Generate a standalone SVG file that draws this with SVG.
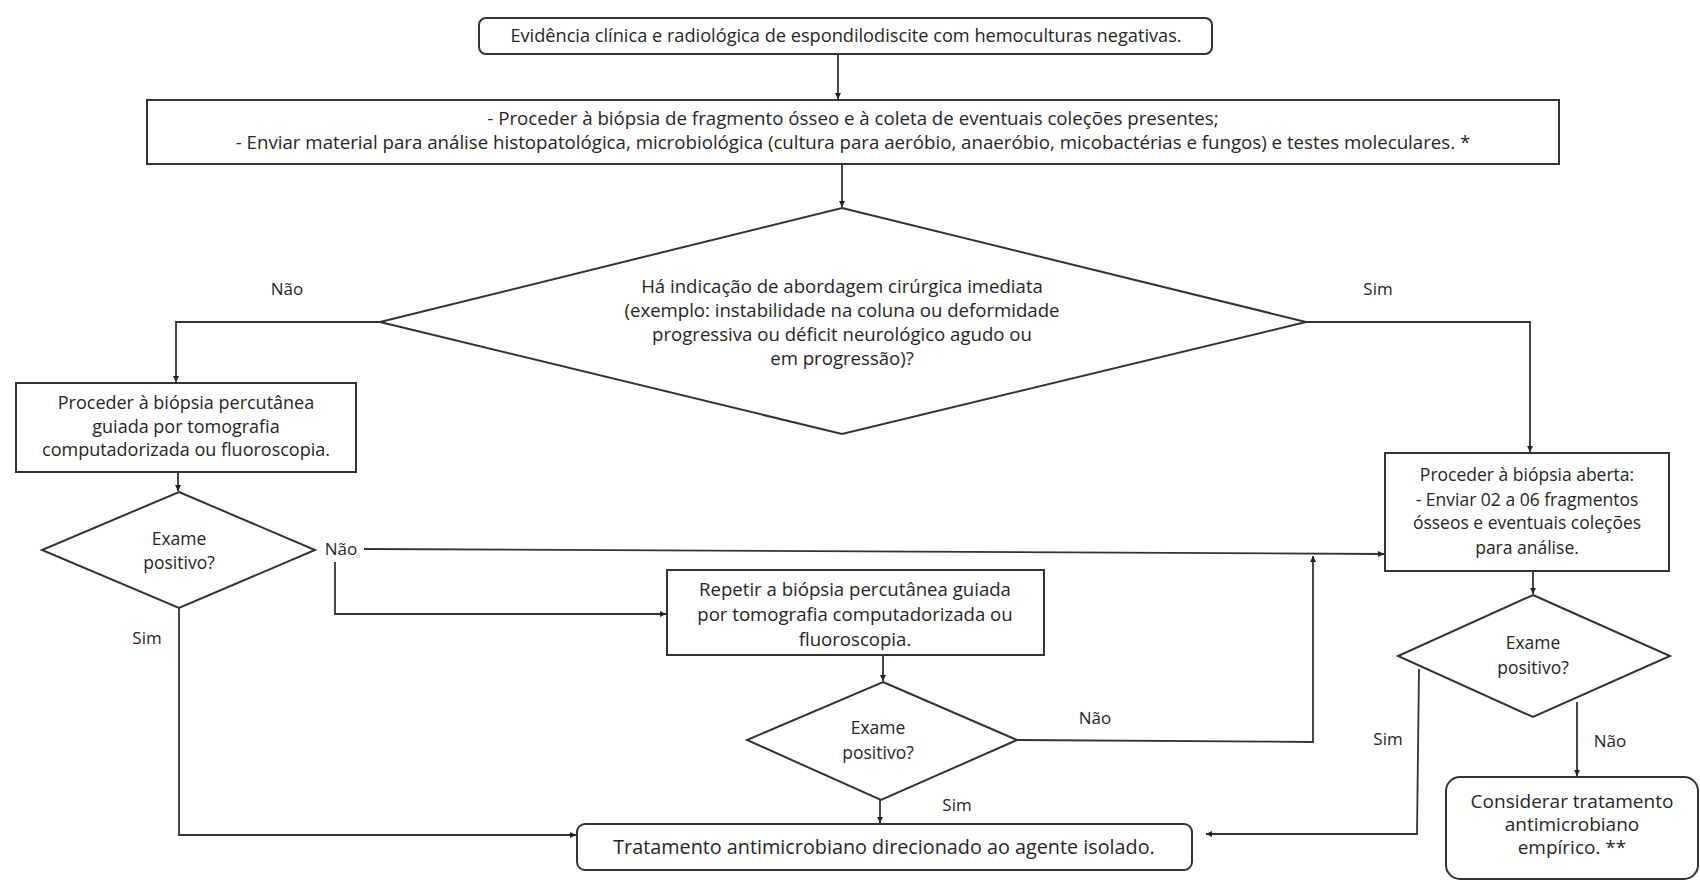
<svg xmlns="http://www.w3.org/2000/svg" width="1700" height="881" viewBox="0 0 1700 881">
<style>
  svg { font-size: 17px; }
  .box { fill: #fff; stroke: #333; stroke-width: 2; }
  .dia { fill: #fff; stroke: #333; stroke-width: 2; }
  .arr { fill: none; stroke: #333; stroke-width: 1.8; marker-end: url(#ah); }
  text { font-family: "Open Sans", "Noto Sans", sans-serif; fill: #262626; text-anchor: middle; }
  .q { font-size: 17.5px; }
</style>
<defs>
  <marker id="ah" viewBox="0 0 10 10" refX="10" refY="5" markerWidth="6" markerHeight="6" orient="auto" markerUnits="userSpaceOnUse">
    <path d="M0,0 L10,5 L0,10 z" fill="#222"/>
  </marker>
</defs>
<rect width="1700" height="881" fill="#fff"/>

<g id="connectors">
  <path class="arr" d="M838,54 V99"/>
  <path class="arr" d="M842,164 V207"/>
  <path class="arr" d="M380,322 H176 V382"/>
  <path class="arr" d="M1306,322 H1530 V452"/>
  <path class="arr" d="M178,472 V491"/>
  <path class="arr" d="M364,549 L1384,554"/>
  <path class="arr" d="M335,562 V614 H666"/>
  <path class="arr" d="M179,608 V835 H576"/>
  <path class="arr" d="M883,655 V681"/>
  <path class="arr" d="M880,800 V823"/>
  <path class="arr" d="M1017,740 L1313,742 V556"/>
  <path class="arr" d="M1533,571 V594"/>
  <path class="arr" d="M1419,669 L1417,834 H1206"/>
  <path class="arr" d="M1577,702 V776"/>
</g>

<g id="labels">
  <text x="287" y="295">Não</text>
  <text x="1378" y="295">Sim</text>
  <text x="341" y="555">Não</text>
  <text x="147" y="644">Sim</text>
  <text x="1095" y="724">Não</text>
  <text x="957" y="811">Sim</text>
  <text x="1388" y="745">Sim</text>
  <text x="1610" y="747">Não</text>
</g>

<g id="n1">
  <rect class="box" x="479" y="18" width="733" height="36" rx="7"/>
  <text x="846" y="42" font-size="18.2">Evidência clínica e radiológica de espondilodiscite com hemoculturas negativas.</text>
</g>

<g id="n2">
  <rect class="box" x="147" y="100" width="1412" height="64"/>
  <text x="853" y="125" font-size="18.7">- Proceder à biópsia de fragmento ósseo e à coleta de eventuais coleções presentes;</text>
  <text x="853" y="149" font-size="18.7">- Enviar material para análise histopatológica, microbiológica (cultura para aeróbio, anaeróbio, micobactérias e fungos) e testes moleculares. *</text>
</g>

<g id="n3">
  <polygon class="dia" points="842,208 1306,322 842,434 380,322"/>
  <text x="842" y="293" font-size="18.6">Há indicação de abordagem cirúrgica imediata</text>
  <text x="842" y="317" font-size="18.6">(exemplo: instabilidade na coluna ou deformidade</text>
  <text x="842" y="341" font-size="18.6">progressiva ou déficit neurológico agudo ou</text>
  <text x="842" y="365" font-size="18.6">em progressão)?</text>
</g>

<g id="n4">
  <rect class="box" x="16" y="383" width="340" height="89"/>
  <text x="186" y="409" font-size="18">Proceder à biópsia percutânea</text>
  <text x="186" y="433" font-size="18">guiada por tomografia</text>
  <text x="186" y="456" font-size="18">computadorizada ou fluoroscopia.</text>
</g>

<g id="n5">
  <polygon class="dia" points="179,492 315,550 179,608 42,550"/>
  <text class="q" x="179" y="545">Exame</text>
  <text class="q" x="179" y="569">positivo?</text>
</g>

<g id="n6">
  <rect class="box" x="667" y="570" width="377" height="85"/>
  <text x="855" y="596" font-size="18.6">Repetir a biópsia percutânea guiada</text>
  <text x="855" y="621" font-size="18.6">por tomografia computadorizada ou</text>
  <text x="855" y="646" font-size="18.6">fluoroscopia.</text>
</g>

<g id="n7">
  <polygon class="dia" points="883,682 1017,740 881,800 747,740"/>
  <text class="q" x="878" y="734">Exame</text>
  <text class="q" x="878" y="759">positivo?</text>
</g>

<g id="n8">
  <rect class="box" x="577" y="824" width="615" height="46" rx="8"/>
  <text x="884" y="854" font-size="19.8">Tratamento antimicrobiano direcionado ao agente isolado.</text>
</g>

<g id="n9">
  <rect class="box" x="1385" y="453" width="284" height="118"/>
  <text x="1527" y="481" font-size="17.5">Proceder à biópsia aberta:</text>
  <text x="1527" y="506" font-size="17.5">- Enviar 02 a 06 fragmentos</text>
  <text x="1527" y="529" font-size="17.5">ósseos e eventuais coleções</text>
  <text x="1527" y="554" font-size="17.5">para análise.</text>
</g>

<g id="n10">
  <polygon class="dia" points="1533,595 1670,656 1533,717 1398,656"/>
  <text class="q" x="1533" y="649">Exame</text>
  <text class="q" x="1533" y="674">positivo?</text>
</g>

<g id="n11">
  <rect class="box" x="1446" y="777" width="252" height="102" rx="14"/>
  <text x="1572" y="808" font-size="19">Considerar tratamento</text>
  <text x="1572" y="831" font-size="19">antimicrobiano</text>
  <text x="1572" y="854" font-size="19">empírico. **</text>
</g>
</svg>
